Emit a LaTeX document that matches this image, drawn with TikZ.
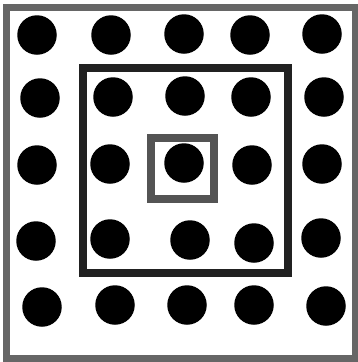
\documentclass[tikz,border=0pt]{standalone}
\begin{document}
\begin{tikzpicture}[x=1pt,y=-1pt,
  dot/.style={circle,fill=black,inner sep=0pt,minimum size=39.5pt},
  outerframe/.style={draw=black!60,line width=7pt},
  midframe/.style={draw=black!87,line width=8pt},
  innerframe/.style={draw=black!67,line width=8pt}]
\useasboundingbox (0,0) rectangle (358,362);
\fill[white] (0,0) rectangle (358,362);
\draw[outerframe] (6.5,7.5) rectangle (355,358);
\draw[midframe] (83,68) rectangle (287.5,272.5);
\draw[innerframe] (151,138) rectangle (214,199);
% row 1
\node[dot] (d11) at (37,35) {};
\node[dot] (d12) at (111,35) {};
\node[dot] (d13) at (184,34) {};
\node[dot] (d14) at (250,35) {};
\node[dot] (d15) at (322,34) {};
% row 2
\node[dot] (d21) at (40,98) {};
\node[dot] (d22) at (113,97) {};
\node[dot] (d23) at (185,96) {};
\node[dot] (d24) at (251,97) {};
\node[dot] (d25) at (324,97) {};
% row 3
\node[dot] (d31) at (37,165) {};
\node[dot] (d32) at (110,164) {};
\node[dot] (d33) at (184,163) {};
\node[dot] (d34) at (252,165) {};
\node[dot] (d35) at (322,164) {};
% row 4
\node[dot] (d41) at (36,241) {};
\node[dot] (d42) at (110,239) {};
\node[dot] (d43) at (190,240) {};
\node[dot] (d44) at (254,243) {};
\node[dot] (d45) at (321,238) {};
% row 5
\node[dot] (d51) at (42,307) {};
\node[dot] (d52) at (115,305) {};
\node[dot] (d53) at (187,305) {};
\node[dot] (d54) at (254,305) {};
\node[dot] (d55) at (326,306) {};
\end{tikzpicture}
\end{document}
